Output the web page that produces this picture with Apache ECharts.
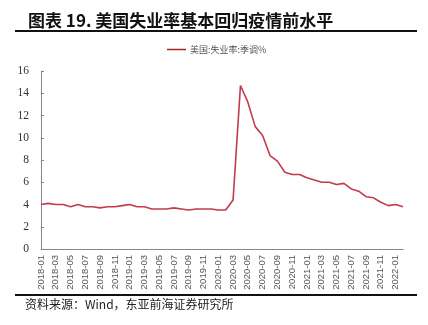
<!DOCTYPE html>
<html>
<head>
<meta charset="utf-8">
<script src="https://cdn.jsdelivr.net/npm/echarts@6/dist/echarts.min.js"></script>
<style>
  html, body { margin: 0; padding: 0; background: #fff; }
  #chart { width: 428px; height: 325px; }
</style>
</head>
<body>
<div id="chart"></div>
<script>
// Monthly US unemployment rate, seasonally adjusted (%)
const months = [
  '2018-01','2018-02','2018-03','2018-04','2018-05','2018-06','2018-07','2018-08','2018-09','2018-10','2018-11','2018-12',
  '2019-01','2019-02','2019-03','2019-04','2019-05','2019-06','2019-07','2019-08','2019-09','2019-10','2019-11','2019-12',
  '2020-01','2020-02','2020-03','2020-04','2020-05','2020-06','2020-07','2020-08','2020-09','2020-10','2020-11','2020-12',
  '2021-01','2021-02','2021-03','2021-04','2021-05','2021-06','2021-07','2021-08','2021-09','2021-10','2021-11','2021-12',
  '2022-01','2022-02'
];
const unemployment = [
  4.0, 4.1, 4.0, 4.0, 3.8, 4.0, 3.8, 3.8, 3.7, 3.8, 3.8, 3.9,
  4.0, 3.8, 3.8, 3.6, 3.6, 3.6, 3.7, 3.6, 3.5, 3.6, 3.6, 3.6,
  3.5, 3.5, 4.4, 14.7, 13.2, 11.0, 10.2, 8.4, 7.9, 6.9, 6.7, 6.7,
  6.4, 6.2, 6.0, 6.0, 5.8, 5.9, 5.4, 5.2, 4.7, 4.6, 4.2, 3.9,
  4.0, 3.8
];
const yTicks = { min: 0, max: 16, interval: 2 };

const titleText = '图表 19. 美国失业率基本回归疫情前水平';
const seriesName = '美国:失业率:季调%';
const sourceText = '资料来源：Wind，东亚前海证券研究所';

const chart = echarts.init(document.getElementById('chart'), null, { renderer: 'canvas' });
chart.setOption({
  animation: false,
  backgroundColor: '#fff',
  title: {
    text: titleText,
    left: 23, top: 7,
    textStyle: { fontFamily: 'Noto Sans CJK SC', fontSize: 17, fontWeight: 'bold', color: '#111' }
  },
  graphic: [
    { type: 'line', shape: { x1: 15, y1: 31, x2: 417, y2: 31 }, style: { stroke: '#111', lineWidth: 2 } },
    { type: 'line', shape: { x1: 15, y1: 295, x2: 417, y2: 295 }, style: { stroke: '#111', lineWidth: 2 } },
    { type: 'text', left: 25, top: 298,
      style: { text: sourceText, font: '12px "Noto Sans CJK SC"', fill: '#222' } }
  ],
  legend: {
    top: 40, left: 162,
    itemWidth: 19, itemHeight: 1.5, itemGap: 4,
    icon: 'rect',
    data: [seriesName],
    textStyle: { fontFamily: 'Noto Sans CJK SC', fontSize: 9, color: '#555', padding: [0, 0, 0, -1] }
  },
  grid: { left: 41, right: 25, top: 71, bottom: 76, containLabel: false },
  xAxis: {
    type: 'category',
    data: months,
    boundaryGap: false,
    axisLine: { lineStyle: { color: '#888', width: 1 } },
    axisTick: { show: false },
    axisLabel: {
      interval: 1, rotate: 90, margin: 6,
      fontFamily: 'Liberation Sans', fontSize: 9.5, color: '#555'
    },
    splitLine: { show: false }
  },
  yAxis: {
    type: 'value',
    min: yTicks.min, max: yTicks.max, interval: yTicks.interval,
    axisLine: { show: true, lineStyle: { color: '#888', width: 1 } },
    axisTick: { show: true, inside: true, length: 3, lineStyle: { color: '#888' } },
    axisLabel: { margin: 12, fontFamily: 'Liberation Serif', fontSize: 11.5, color: '#333' },
    splitLine: { show: false }
  },
  series: [{
    name: seriesName,
    type: 'line',
    data: unemployment,
    symbol: 'none',
    lineStyle: { color: '#c23a4e', width: 1.6 },
    itemStyle: { color: '#9e2a2b' }
  }]
});
</script>
</body>
</html>
